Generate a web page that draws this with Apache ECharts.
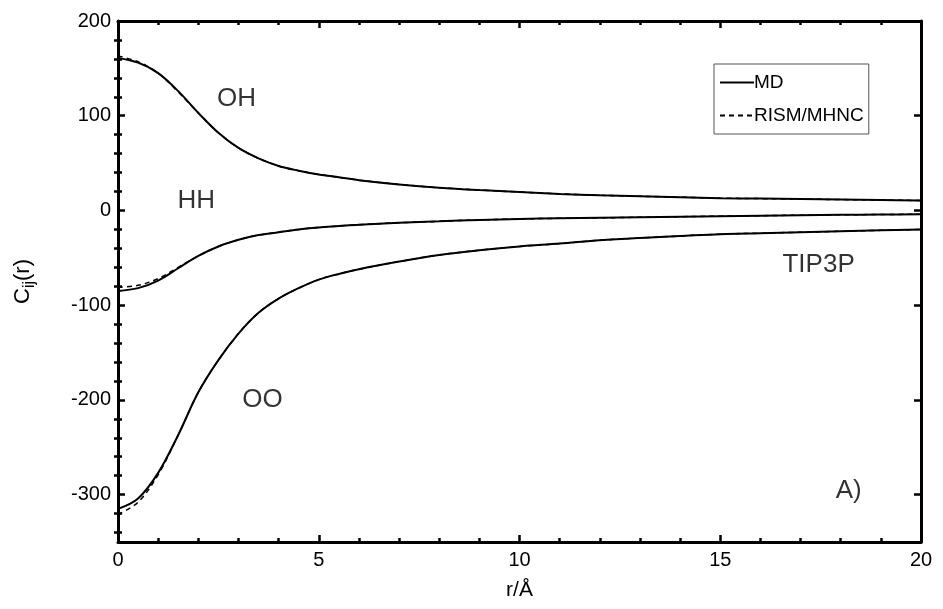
<!DOCTYPE html>
<html>
<head>
<meta charset="utf-8">
<script src="https://cdn.jsdelivr.net/npm/echarts@6/dist/echarts.min.js"></script>
<style>html,body{margin:0;padding:0;background:#fff}#c{width:943px;height:609px}</style>
</head>
<body>
<div id="c"></div>
<script>
// r grid (Å)
const r = [0,0.5,1,1.5,2,2.5,3,3.5,4,4.5,5,5.5,6,7,8,9,10,11,12,13,14,15,16,17,18,19,20];
// MD curves
const OH_MD   = [161,156,145,126,103,82,66,55,47,42,38,35,32,27.5,24,21.5,19.5,17.5,16,15,14,13,12.5,12,11.5,11,10.5];
const HH_MD   = [-85,-82,-74,-61,-48,-38,-31,-26,-23,-20,-18,-16.5,-15,-13,-11.5,-10,-9,-8.3,-7.8,-7.2,-6.6,-6,-5.5,-5,-4.6,-4.3,-4];
const OO_MD   = [-315,-304,-277,-237,-192,-158,-130,-108,-93,-82,-73,-67,-62,-54,-47,-42,-38,-35,-31.5,-29,-27,-25,-24,-23,-22,-21,-20];
// RISM/MHNC curves
const OH_RISM = [163,157,145,125,103,82,66,55,47,42,38,35,32,27.5,24,21.5,19.5,17.5,16,15,14,13,12.5,12,11.5,11,10.5];
const HH_RISM = [-81,-79,-72,-60,-48,-38,-31,-26,-23,-20,-18,-16.5,-15,-13,-11.5,-10,-9,-8.3,-7.8,-7.2,-6.6,-6,-5.5,-5,-4.6,-4.3,-4];
const OO_RISM = [-321,-308,-279,-237,-192,-158,-130,-108,-93,-82,-73,-67,-62,-54,-47,-42,-38,-35,-31.5,-29,-27,-25,-24,-23,-22,-21,-20];
// tick values
const xTicks = [0,5,10,15,20];
const yTicks = [-300,-200,-100,0,100,200];
const yMinor = [-340,-320,-280,-260,-240,-220,-180,-160,-140,-120,-80,-60,-40,-20,20,40,60,80,120,140,160,180];
// annotations [r, value, text]
const annR = [2.95, 1.95, 3.6, 17.45, 18.2];
const annV = [118, 10, -200, -57, -296];
const annT = ['OH', 'HH', 'OO', 'TIP3P', 'A)'];

const FONT = '"Liberation Sans", Arial, sans-serif';
const zip = (a) => r.map((x, i) => [x, a[i]]);

const mdStyle = {color: '#000', width: 2, type: 'solid'};
const riStyle = {color: '#000', width: 1.5, type: [5, 4]};
function line(name, data, style, z) {
  return {name, type: 'line', data: zip(data), smooth: 0.35, symbol: 'none',
          lineStyle: style, itemStyle: {color: '#000'}, z, xAxisIndex: 0, yAxisIndex: 0};
}

const tickLine = {show: true, lineStyle: {color: '#000', width: 3}, onZero: false};
const majorTick = {show: true, inside: true, length: 7, lineStyle: {color: '#000', width: 2.5}};
const minorTickCfg = {show: true, splitNumber: 5, length: 4, lineStyle: {color: '#000', width: 2.5}};

const chart = echarts.init(document.getElementById('c'), null, {renderer: 'canvas'});
chart.setOption({
  animation: false,
  backgroundColor: '#fff',
  grid: {left: 118, right: 22, top: 21, bottom: 67, containLabel: false},
  xAxis: [
    {type: 'value', position: 'bottom', min: 0, max: 20, interval: 5,
     axisLine: tickLine, axisTick: majorTick, minorTick: minorTickCfg,
     splitLine: {show: false}, minorSplitLine: {show: false},
     axisLabel: {color: '#000', fontSize: 20, fontFamily: FONT, margin: 8,
                 customValues: xTicks},
     name: 'r/Å', nameLocation: 'middle', nameGap: 38,
     nameTextStyle: {color: '#000', fontSize: 21, fontFamily: FONT}},
    {type: 'value', position: 'top', min: 0, max: 20, interval: 5,
     axisLine: tickLine, axisTick: majorTick, minorTick: minorTickCfg,
     splitLine: {show: false}, axisLabel: {show: false}}
  ],
  yAxis: [
    {type: 'value', position: 'left', min: -350, max: 200,
     axisLine: tickLine, axisTick: Object.assign({customValues: yTicks}, majorTick),
     splitLine: {show: false},
     axisLabel: {color: '#000', fontSize: 20, fontFamily: FONT, margin: 7, customValues: yTicks},
     name: '{a|C}{s|ij}{a|(r)}', nameLocation: 'middle', nameGap: 80, nameRotate: 90,
     nameTextStyle: {color: '#000', fontFamily: FONT,
       rich: {a: {fontSize: 22, fontFamily: FONT, color: '#000'},
              s: {fontSize: 16, fontFamily: FONT, color: '#000', verticalAlign: 'bottom', padding: [14, 0, 0, 0]}}}},
    {type: 'value', position: 'right', min: -350, max: 200,
     axisLine: tickLine, axisTick: Object.assign({customValues: yTicks}, majorTick),
     splitLine: {show: false}, axisLabel: {show: false}},
    {type: 'value', position: 'left', min: -350, max: 200,
     axisLine: {show: false}, splitLine: {show: false}, axisLabel: {show: false},
     axisTick: {show: true, inside: true, length: 4, customValues: yMinor, lineStyle: {color: '#000', width: 2.5}}},
    {type: 'value', position: 'right', min: -350, max: 200,
     axisLine: {show: false}, splitLine: {show: false}, axisLabel: {show: false},
     axisTick: {show: true, inside: true, length: 4, customValues: yMinor, lineStyle: {color: '#000', width: 2.5}}}
  ],
  legend: {
    data: ['MD', 'RISM/MHNC'], orient: 'vertical', left: 714, top: 64,
    backgroundColor: '#fff', borderColor: '#555', borderWidth: 1, borderRadius: 0,
    padding: [9, 5, 9, 5], itemGap: 14, itemWidth: 34, itemHeight: 12,
    itemStyle: {color: 'rgba(0,0,0,0)', borderWidth: 0, opacity: 0},
    textStyle: {color: '#000', fontSize: 19, fontFamily: FONT, padding: [0, 0, 0, -5]}
  },
  series: [
    line('RISM/MHNC', OH_RISM, riStyle, 2),
    line('RISM/MHNC', HH_RISM, riStyle, 2),
    line('RISM/MHNC', OO_RISM, riStyle, 2),
    line('MD', OH_MD, mdStyle, 3),
    line('MD', HH_MD, mdStyle, 3),
    line('MD', OO_MD, mdStyle, 3),
    {name: 'ann', type: 'scatter', symbolSize: 0, silent: true,
     data: annR.map((x, i) => ({value: [x, annV[i]], name: annT[i]})),
     label: {show: true, position: 'inside', formatter: (p) => p.name,
             color: '#000', fontSize: 26, fontFamily: FONT}}
  ]
});
</script>
</body>
</html>
